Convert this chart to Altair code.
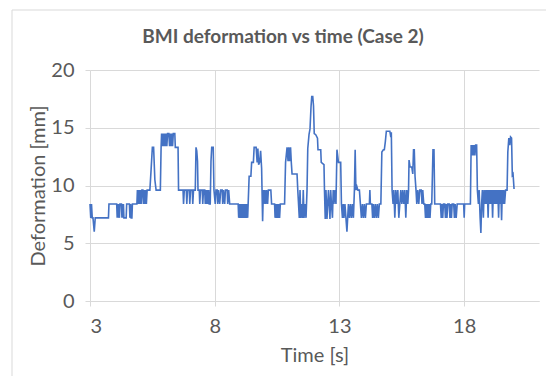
import altair as alt
import pandas as pd

# (time [s], deformation [mm]) samples, segment by segment
seg_3_6 = [
    (3.00, 8.4), (3.03, 7.2), (3.06, 8.4), (3.09, 7.2), (3.12, 7.2), (3.17, 6.0),
    (3.21, 7.2), (3.74, 7.2), (3.76, 8.4), (4.07, 8.4),
    (4.09, 7.2), (4.11, 8.4), (4.13, 7.2), (4.15, 8.4), (4.18, 7.2), (4.20, 8.4),
    (4.26, 8.4), (4.28, 7.2), (4.30, 8.4), (4.32, 7.2), (4.34, 8.4),
    (4.36, 7.2), (4.45, 7.2), (4.47, 8.4), (4.58, 8.4), (4.60, 7.2), (4.63, 8.4),
    (4.65, 7.2), (4.68, 7.2), (4.70, 8.4), (4.88, 8.4),
    (4.90, 9.6), (4.93, 8.4), (4.96, 9.6), (4.99, 8.4), (5.02, 9.6), (5.05, 8.4),
    (5.08, 9.6), (5.12, 9.6), (5.14, 8.4), (5.17, 9.6), (5.20, 8.4), (5.23, 9.6),
    (5.26, 8.4), (5.29, 9.6), (5.34, 9.6),
    (5.40, 9.6), (5.45, 11.4), (5.50, 13.3), (5.55, 13.3), (5.60, 10.5), (5.65, 9.6),
    (5.82, 9.6),
]
seg_6_8 = [
    (5.85, 13.3), (5.87, 14.5), (5.90, 13.4), (5.93, 14.5), (5.96, 13.4), (5.99, 14.5),
    (6.02, 13.4), (6.05, 14.5), (6.08, 13.4), (6.11, 14.5), (6.16, 14.5), (6.19, 13.4),
    (6.22, 14.5), (6.25, 13.4), (6.28, 14.5), (6.31, 13.4), (6.34, 14.5), (6.40, 14.5),
    (6.42, 13.3), (6.53, 13.3), (6.55, 9.6),
    (6.73, 9.6), (6.75, 8.4), (6.78, 9.6), (6.86, 9.6), (6.88, 8.4), (6.91, 9.6),
    (6.98, 9.6), (7.00, 8.4), (7.03, 9.6), (7.10, 9.6), (7.12, 8.4), (7.15, 9.6),
    (7.22, 9.6), (7.25, 13.3), (7.28, 13.0), (7.31, 12.1), (7.33, 9.6), (7.38, 9.6),
    (7.40, 8.4), (7.43, 9.6), (7.50, 9.6), (7.52, 8.4), (7.55, 9.6), (7.60, 9.6),
    (7.62, 8.4), (7.64, 9.6), (7.66, 8.4), (7.68, 9.6), (7.70, 8.4), (7.72, 9.6),
    (7.74, 8.4), (7.76, 9.6), (7.78, 8.4), (7.82, 8.4), (7.85, 12.1), (7.88, 13.3),
    (7.94, 13.3), (7.97, 9.6),
]
seg_8_11 = [
    (8.02, 8.4), (8.05, 9.6), (8.10, 9.6), (8.12, 8.4), (8.15, 9.6), (8.20, 8.4),
    (8.24, 9.6), (8.30, 9.6), (8.32, 8.4), (8.35, 9.6), (8.40, 8.4), (8.43, 9.6),
    (8.50, 9.6), (8.52, 8.4), (8.56, 9.6), (8.60, 8.4),
    (8.94, 8.4), (8.96, 7.2), (8.99, 8.4), (9.02, 7.2), (9.05, 8.4), (9.08, 7.2),
    (9.11, 8.4), (9.14, 7.2), (9.17, 8.4), (9.20, 7.2), (9.23, 8.4), (9.26, 7.2),
    (9.29, 8.4), (9.32, 7.2), (9.34, 8.4),
    (9.38, 10.8), (9.45, 10.8), (9.48, 12.0), (9.55, 12.0), (9.58, 13.3), (9.66, 13.3),
    (9.70, 12.0), (9.73, 13.2), (9.76, 11.8), (9.80, 12.0), (9.84, 13.0), (9.88, 11.5),
    (9.92, 6.9), (9.95, 9.6), (9.98, 8.4), (10.01, 9.6), (10.05, 8.4), (10.08, 9.6),
    (10.12, 8.4), (10.15, 9.6), (10.25, 9.6), (10.28, 8.4), (10.40, 8.4),
    (10.42, 7.2), (10.45, 8.4), (10.48, 7.2), (10.51, 8.4), (10.54, 7.2), (10.57, 8.4),
    (10.60, 7.2), (10.63, 8.4), (10.80, 8.4), (10.84, 12.0), (10.90, 13.3),
    (10.94, 12.1), (10.97, 13.3), (11.00, 12.1), (11.04, 13.3), (11.07, 12.0),
    (11.10, 11.0), (11.30, 11.0),
]
seg_11_14 = [
    (11.33, 9.6), (11.36, 8.4), (11.39, 7.2), (11.42, 9.6), (11.45, 7.2), (11.48, 8.4),
    (11.52, 7.2), (11.55, 9.6), (11.58, 7.2), (11.62, 8.4), (11.66, 7.2), (11.70, 9.6),
    (11.73, 13.2), (11.78, 14.4), (11.82, 14.9), (11.86, 16.8), (11.89, 17.7),
    (11.93, 17.7), (11.96, 16.9), (11.99, 14.5), (12.05, 14.4), (12.12, 14.1),
    (12.14, 13.1), (12.25, 13.1), (12.27, 12.0), (12.38, 11.8), (12.40, 9.6),
    (12.43, 7.1), (12.46, 9.6), (12.50, 7.1), (12.53, 8.4), (12.56, 9.6), (12.59, 8.4),
    (12.62, 7.1), (12.65, 9.6), (12.68, 8.4), (12.72, 7.2), (12.75, 9.6), (12.78, 8.4),
    (12.82, 9.6), (12.86, 8.4), (12.90, 13.1), (12.96, 12.0), (13.05, 12.0),
    (13.08, 8.4), (13.12, 7.2), (13.15, 8.4), (13.18, 7.2), (13.22, 8.4), (13.26, 7.2),
    (13.30, 6.0), (13.33, 7.2), (13.36, 8.4), (13.40, 7.2), (13.44, 8.4), (13.48, 7.2),
    (13.52, 8.4), (13.56, 7.2), (13.60, 9.6), (13.63, 13.1), (13.66, 9.6), (13.70, 9.9),
    (13.74, 9.6), (13.80, 9.6), (13.84, 8.4), (13.88, 7.2), (13.92, 8.4), (13.96, 7.2),
]
seg_14_17 = [
    (14.00, 8.4), (14.04, 7.2), (14.08, 8.4), (14.20, 8.4), (14.22, 9.6), (14.24, 8.4),
    (14.30, 8.4), (14.33, 7.2), (14.36, 8.4), (14.40, 7.2), (14.44, 8.4), (14.48, 7.2),
    (14.52, 8.4), (14.56, 7.2), (14.60, 8.4), (14.66, 8.4),
    (14.70, 12.9), (14.76, 13.1), (14.80, 13.1), (14.84, 13.8), (14.88, 14.7),
    (15.02, 14.7), (15.06, 14.2), (15.08, 14.6), (15.11, 9.6),
    (15.15, 8.4), (15.18, 9.6), (15.22, 7.2), (15.26, 9.6), (15.30, 8.4), (15.34, 9.6),
    (15.38, 7.2), (15.42, 8.4), (15.46, 9.6), (15.50, 8.4), (15.54, 9.6), (15.58, 8.4),
    (15.62, 9.6), (15.66, 7.2), (15.70, 9.6), (15.74, 8.4), (15.77, 9.6),
    (15.79, 12.2), (15.83, 11.6), (15.90, 11.6), (15.94, 11.0), (15.97, 13.1),
    (16.00, 13.1), (16.03, 10.8), (16.07, 9.6), (16.10, 8.4), (16.14, 9.6), (16.18, 8.4),
    (16.22, 9.6), (16.28, 9.6), (16.31, 8.4), (16.34, 9.6), (16.38, 8.4), (16.42, 8.4),
    (16.45, 7.2), (16.48, 8.4), (16.51, 7.2), (16.54, 8.4), (16.57, 7.2), (16.60, 8.4),
    (16.63, 7.2), (16.66, 8.4), (16.70, 8.4), (16.75, 13.1), (16.79, 13.1), (16.82, 8.4),
]
seg_17_20 = [
    (17.05, 8.4), (17.08, 7.2), (17.11, 8.4), (17.14, 7.2), (17.17, 8.4), (17.22, 8.4),
    (17.25, 7.2), (17.28, 8.4), (17.31, 7.2), (17.34, 8.4), (17.40, 8.4), (17.43, 7.2),
    (17.46, 8.4), (17.49, 7.2), (17.52, 8.4), (17.58, 8.4), (17.61, 7.2), (17.64, 8.4),
    (17.68, 7.2), (17.72, 8.4), (17.98, 8.4), (18.00, 7.2), (18.02, 8.4), (18.25, 8.4),
    (18.28, 13.5), (18.31, 12.6), (18.34, 13.5), (18.37, 12.6), (18.40, 13.5),
    (18.43, 12.6), (18.46, 13.5), (18.50, 13.5), (18.53, 9.6), (18.57, 8.4),
    (18.60, 9.6), (18.64, 7.2), (18.67, 5.9), (18.70, 8.4), (18.73, 9.6), (18.77, 7.2),
    (18.80, 9.6), (18.84, 8.4), (18.87, 9.6), (18.90, 8.4), (18.93, 9.6), (18.96, 7.2),
    (18.99, 9.6), (19.02, 8.4), (19.05, 9.6), (19.08, 8.4), (19.11, 9.6), (19.14, 7.2),
    (19.17, 9.6), (19.20, 8.4), (19.23, 9.6), (19.26, 8.4), (19.29, 9.6), (19.32, 8.4),
    (19.35, 9.6), (19.38, 7.2), (19.41, 9.6), (19.44, 8.4), (19.47, 9.6), (19.50, 7.0),
    (19.53, 9.6), (19.56, 8.4), (19.59, 9.6), (19.62, 8.4), (19.66, 9.6), (19.72, 9.6),
    (19.75, 12.9), (19.79, 14.1), (19.83, 13.5), (19.86, 14.2), (19.90, 14.1),
    (19.93, 10.9), (19.96, 11.0), (20.00, 9.7),
]

x_ticks = [3, 8, 13, 18]
y_ticks = [0, 5, 10, 15, 20]

rows = seg_3_6 + seg_6_8 + seg_8_11 + seg_11_14 + seg_14_17 + seg_17_20
df = pd.DataFrame(rows, columns=["t", "d"])

FONT = "Lato"
GREY = "#595959"
GRID = "#d9d9d9"
W, H = 449, 231

line = alt.Chart(df).mark_line(color="#4472C4", strokeWidth=1.6).encode(
    x=alt.X(
        "t:Q",
        scale=alt.Scale(domain=[3, 21], nice=False, zero=False),
        axis=alt.Axis(
            values=x_ticks, title="Time [s]", titleX=W / 2, titleY=54,
            titleBaseline="middle", labelPadding=10,
        ),
    ),
    y=alt.Y(
        "d:Q",
        scale=alt.Scale(domain=[0, 20], nice=False),
        axis=alt.Axis(
            values=y_ticks, title="Deformation [mm]", titleX=-52, titleY=H / 2,
            titleAngle=270, titleBaseline="middle", titleAlign="center",
            labelPadding=11, domain=False,
        ),
    ),
)

border = alt.Chart(pd.DataFrame({"k": [0]})).mark_rect(
    fillOpacity=0, stroke=GRID, strokeWidth=1
).encode(
    x=alt.value(-78), x2=alt.value(470), y=alt.value(-60), y2=alt.value(320)
)

title = alt.Chart(pd.DataFrame({"txt": ["BMI deformation vs time (Case 2)"]})).mark_text(
    font=FONT, fontSize=19, fontWeight="bold", color=GREY, align="center", baseline="middle"
).encode(
    text="txt:N", x=alt.value(193), y=alt.value(-33)
)

chart = alt.layer(border, line, title).properties(
    width=W,
    height=H,
    autosize="none",
    padding={"left": 82, "top": 62, "right": 7, "bottom": 75},
).configure_view(stroke=None).configure_axis(
    labelFont=FONT, titleFont=FONT, labelFontSize=20, titleFontSize=20,
    labelColor=GREY, titleColor=GREY, titleFontWeight="normal",
    gridColor=GRID, domainColor=GRID, tickColor=GRID, tickSize=5,
)

chart.save("out.html", embed_options={"renderer": "svg", "actions": False})
